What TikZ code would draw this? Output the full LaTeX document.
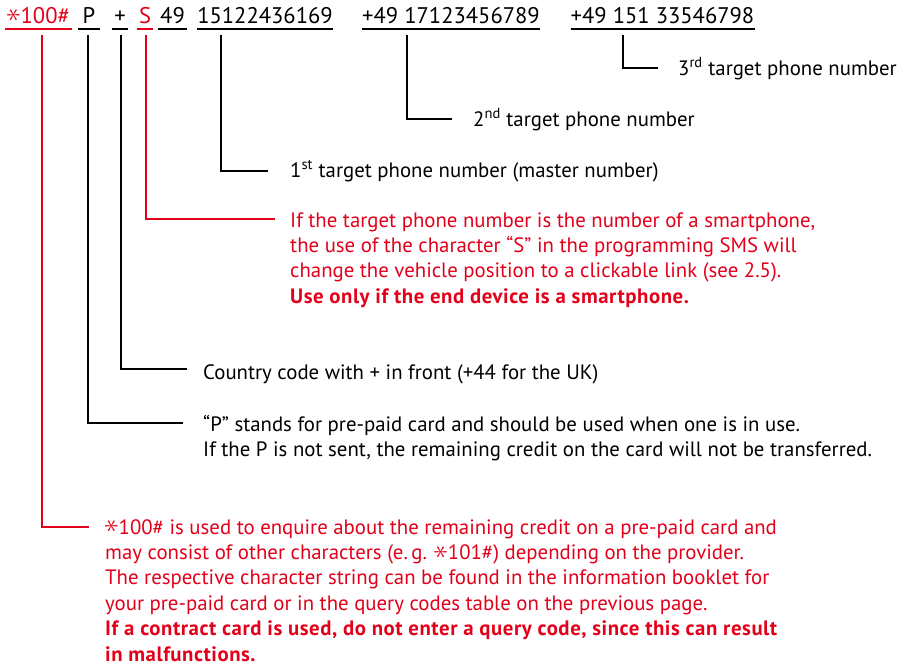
\documentclass[tikz,border=0pt]{standalone}
\usepackage{fontspec}
\setmainfont{PT Sans}[BoldFeatures={LetterSpace=2.6}]
\usepackage{graphicx}
\definecolor{warnred}{RGB}{226,0,26}
% six-armed asterisk of the query code
\newcommand{\qast}{\raisebox{0.04em}{\scalebox{1.4}{\rotatebox[origin=c]{90}{$\ast$}}}}
\begin{document}
\begin{tikzpicture}[x=1pt,y=-1pt,
  tok/.style={anchor=base, inner xsep=0pt, inner ysep=6pt, text depth=0pt,
    font=\fontsize{22.6}{27}\selectfont},
  ul/.style={line width=2.4pt},
  conn/.style={line width=2.6pt},
  note/.style={anchor=base west, inner sep=0pt, align=left,
    font=\fontsize{20.8}{25.4}\selectfont},
  alert/.style={text=warnred},
  alertline/.style={draw=warnred}]
\useasboundingbox (0,0) rectangle (909,665);

% programming string tokens
\node[tok, alert, minimum width=66pt] (tq) at (38.5,23) {\qast100\#};
\node[tok, minimum width=22pt] (tp) at (89,23) {P};
\node[tok, minimum width=16pt] (tplus) at (120,23) {+};
\node[tok, alert, minimum width=16pt] (ts) at (145,23) {S};
\node[tok, minimum width=29pt] (tcc) at (172.5,23) {49};
\node[tok, minimum width=132pt] (tn1) at (265,23) {15122436169};
\node[tok, minimum width=178pt] (tn2) at (451,23) {+49 17123456789};
\node[tok, minimum width=179pt] (tn3) at (662.5,23) {+49 151 33546798};

% underlines
\foreach \t in {tp,tplus,tcc,tn1,tn2,tn3}
  \draw[ul] (\t.south west) -- (\t.south east);
\foreach \t in {tq,ts}
  \draw[ul, alertline] (\t.south west) -- (\t.south east);

% explanations (base anchor sits on the last line)
\node[note] (l3) at (678,75) {3\textsuperscript{rd} target phone number};
\node[note] (l2) at (473,126) {2\textsuperscript{nd} target phone number};
\node[note] (l1) at (290,177) {1\textsuperscript{st} target phone number (master number)};
\node[note, alert] (ls) at (290,303.2) {If the target phone number is the number of a smartphone,\\
  the use of the character \char"201CS\char"201D{} in the programming SMS will\\
  change the vehicle position to a clickable link (see 2.5).\\
  \textbf{Use only if the end device is a smartphone.}};
\node[note] (lc) at (203,379) {Country code with + in front (+44 for the UK)};
\node[note] (lp) at (203,456.4) {\char"201CP\char"201D{} stands for pre-paid card and should be used when one is in use.\\
  If the P is not sent, the remaining credit on the card will not be transferred.};
\node[note, alert] (lq) at (105,661) {\qast100\# is used to enquire about the remaining credit on a pre-paid card and\\
  may consist of other characters (e.\,g. \qast101\#) depending on the provider.\\
  The respective character string can be found in the information booklet for\\
  your pre-paid card or in the query codes table on the previous page.\\
  \textbf{If a contract card is used, do not enter a query code, since this can result}\\
  \textbf{in malfunctions.}};

% connector corners
\coordinate (s3) at (623,35);   \coordinate (e3) at (658,68);
\coordinate (s2) at (407,35);   \coordinate (e2) at (452,119);
\coordinate (s1) at (221,35);   \coordinate (e1) at (268,171);
\coordinate (sS) at (146,35);   \coordinate (eS) at (275,219);
\coordinate (sc) at (121,35);   \coordinate (ec) at (187,369);
\coordinate (sp) at (88,35);    \coordinate (ep) at (183,423);
\coordinate (sq) at (42,35);    \coordinate (eq) at (89,527);

\draw[conn] (s3) |- (e3);
\draw[conn] (s2) |- (e2);
\draw[conn] (s1) |- (e1);
\draw[conn, alertline] (sS) |- (eS);
\draw[conn] (sc) |- (ec);
\draw[conn] (sp) |- (ep);
\draw[conn, alertline] (sq) |- (eq);
\end{tikzpicture}
\end{document}
